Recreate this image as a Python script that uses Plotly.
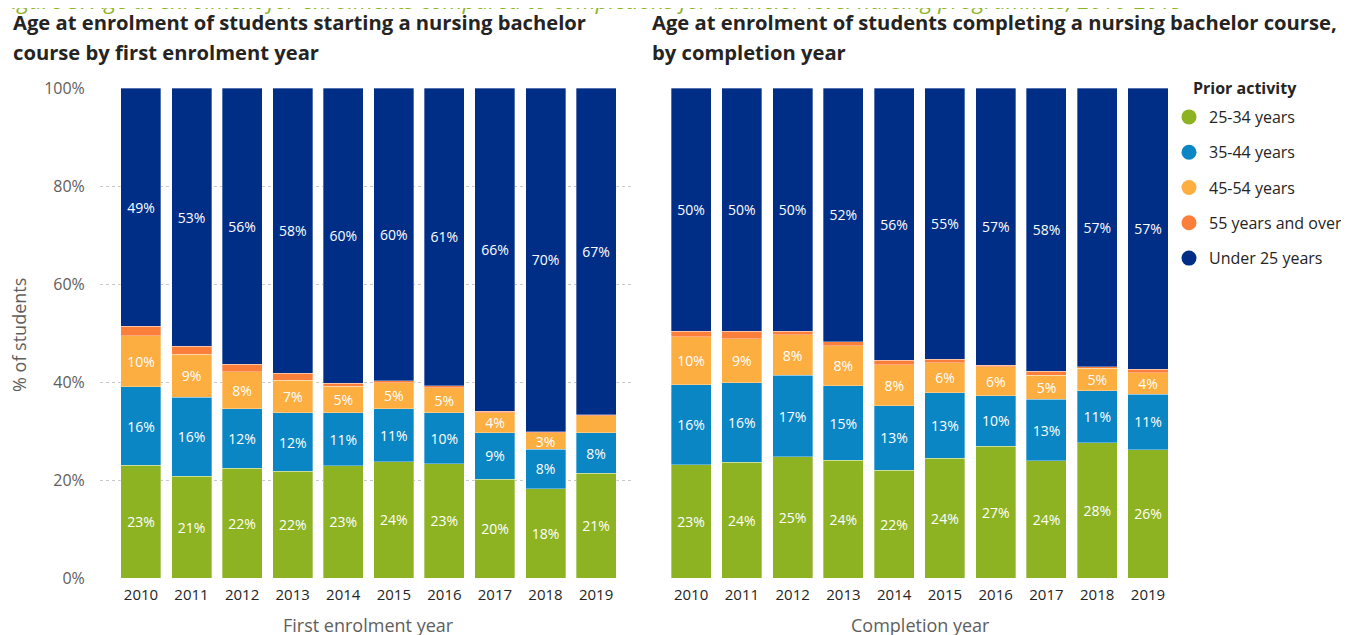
import plotly.graph_objects as go

W, H = 1349, 635
PAGE_PAD = 8  # default body margin of the html page

years = ['2010', '2011', '2012', '2013', '2014', '2015', '2016', '2017', '2018', '2019']
groups = ['25-34 years', '35-44 years', '45-54 years', '55 years and over', 'Under 25 years']
pct_ticks = [0, 20, 40, 60, 80, 100]
pct_labels = ['0%', '20%', '40%', '60%', '80%', '100%']

# enrolments, % of students by age group (bottom to top of the stack)
start_25_34 = [23.0, 20.8, 22.4, 21.8, 22.9, 23.7, 23.3, 20.2, 18.2, 21.4]
start_35_44 = [16.0, 16.1, 12.1, 11.9, 10.8, 10.8, 10.4, 9.4, 8.1, 8.2]
start_45_54 = [10.4, 8.8, 7.6, 6.7, 5.4, 5.3, 5.1, 4.1, 3.3, 3.5]
start_55plus = [2.0, 1.6, 1.5, 1.4, 0.6, 0.5, 0.4, 0.3, 0.2, 0.2]
start_under25 = [48.6, 52.7, 56.4, 58.2, 60.3, 59.7, 60.8, 66.0, 70.2, 66.7]

# completions, % of students by age group
comp_25_34 = [23.1, 23.6, 24.7, 24.0, 22.0, 24.4, 26.9, 23.9, 27.6, 26.2]
comp_35_44 = [16.3, 16.2, 16.7, 15.2, 13.2, 13.4, 10.3, 12.6, 10.6, 11.3]
comp_45_54 = [9.8, 9.0, 8.2, 8.2, 8.3, 6.1, 5.9, 4.9, 4.6, 4.4]
comp_55plus = [1.2, 1.6, 0.8, 0.8, 0.9, 0.7, 0.3, 0.8, 0.3, 0.7]
comp_under25 = [49.6, 49.6, 49.6, 51.8, 55.6, 55.4, 56.6, 57.8, 56.9, 57.4]

# labels that the report leaves out
hidden_start = {'55 years and over': 'all', '45-54 years': ['2019']}
hidden_comp = {'55 years and over': 'all'}

COLORS = {
  '25-34 years': '#8DB323',
  '35-44 years': '#0A86C5',
  '45-54 years': '#FCAE41',
  '55 years and over': '#FB7E3B',
  'Under 25 years': '#002E87',
}

FONT = 'Segoe UI, Open Sans, sans-serif'


def px_x(p):
  return (p - PAGE_PAD) / W


def px_y(p):
  return 1 - (p - PAGE_PAD) / H


def labels(name, values, hidden):
  rule = hidden.get(name)
  out = []
  for yr, v in zip(years, values):
    if rule == 'all' or (rule and yr in rule):
      out.append('')
    else:
      out.append(f'{v:.0f}%')
  return out


fig = go.Figure()

start_series = [start_25_34, start_35_44, start_45_54, start_55plus, start_under25]
comp_series = [comp_25_34, comp_35_44, comp_45_54, comp_55plus, comp_under25]

for axis_x, axis_y, series, hidden in [('x', 'y', start_series, hidden_start),
                                       ('x2', 'y2', comp_series, hidden_comp)]:
  for name, vals in zip(groups, series):
    fig.add_trace(go.Bar(
      name=name, x=years, y=vals, xaxis=axis_x, yaxis=axis_y,
      marker=dict(color=COLORS[name], line=dict(width=0.6, color='rgba(255,255,255,0.55)')),
      text=labels(name, vals, hidden),
      textposition='inside', insidetextanchor='middle', textangle=0,
      insidetextfont=dict(family=FONT, size=14, color='white'),
      showlegend=False, hoverinfo='x+y+name',
    ))

# round legend markers
for i, name in enumerate(groups):
  fig.add_trace(go.Scatter(
    name=name, x=[None], y=[None], xaxis='x2', yaxis='y2',
    mode='markers', marker=dict(symbol='circle', size=15, color=COLORS[name]),
    legendgroup=f'g{i}', showlegend=True,
  ))

ydom = [px_y(578), px_y(88)]
xrange = [-0.81, 9.71]

fig.update_layout(
  width=W, height=H,
  margin=dict(l=0, r=0, t=0, b=0, autoexpand=False),
  paper_bgcolor='white', plot_bgcolor='white',
  barmode='stack', bargap=0.21,
  uniformtext=dict(minsize=14, mode='show'),
  font=dict(family=FONT, color='#252423'),
  xaxis=dict(
    domain=[px_x(100), px_x(632)], range=xrange, type='category',
    showgrid=False, zeroline=False, showline=False,
    ticks='outside', ticklen=3, tickcolor='rgba(0,0,0,0)',
    tickfont=dict(family=FONT, size=15, color='#252423'),
  ),
  yaxis=dict(
    domain=ydom, range=[0, 100], tickmode='array', tickvals=pct_ticks, ticktext=pct_labels,
    showgrid=True, gridcolor='#C8C8C8', griddash='dot', gridwidth=1,
    zeroline=False, showline=False,
    ticks='outside', ticklen=11, tickcolor='rgba(0,0,0,0)',
    tickfont=dict(family=FONT, size=16, color='#605E5C'),
  ),
  xaxis2=dict(
    domain=[px_x(650), px_x(1184)], range=xrange, type='category',
    showgrid=False, zeroline=False, showline=False,
    ticks='outside', ticklen=3, tickcolor='rgba(0,0,0,0)',
    tickfont=dict(family=FONT, size=15, color='#252423'),
  ),
  yaxis2=dict(
    domain=ydom, range=[0, 100], anchor='x2',
    showgrid=False, zeroline=False, showline=False, showticklabels=False,
  ),
  showlegend=True,
  legend=dict(
    x=px_x(1169), y=px_y(100), xanchor='left', yanchor='top',
    traceorder='grouped', tracegroupgap=11.5,
    font=dict(family=FONT, size=16, color='#252423'),
    bgcolor='rgba(0,0,0,0)', itemclick='toggle',
  ),
)

title_font = dict(family=FONT, size=20.2, color='#252423', weight='bold')
axis_title_font = dict(family=FONT, size=18, color='#605E5C')
annotations = [
  # figure caption, clipped at the top of the page
  dict(text='Figure 5: Age at enrolment for enrolments compared to completions for bachelor level nursing programmes, 2010-2019',
       x=px_x(-1), y=px_y(0), xanchor='left', yanchor='middle',
       font=dict(family=FONT, size=22.5, color='#8DB323', style='italic')),
  dict(text='Age at enrolment of students starting a nursing bachelor',
       x=px_x(11), y=px_y(22), xanchor='left', yanchor='middle', font=title_font),
  dict(text='course by first enrolment year',
       x=px_x(11), y=px_y(52), xanchor='left', yanchor='middle', font=title_font),
  dict(text='Age at enrolment of students completing a nursing bachelor course,',
       x=px_x(650), y=px_y(22), xanchor='left', yanchor='middle', font=title_font),
  dict(text='by completion year',
       x=px_x(650), y=px_y(52), xanchor='left', yanchor='middle', font=title_font),
  dict(text='% of students', textangle=-90,
       x=px_x(19), y=px_y(335), xanchor='center', yanchor='middle', font=axis_title_font),
  dict(text='First enrolment year',
       x=px_x(369), y=px_y(625), xanchor='center', yanchor='middle', font=axis_title_font),
  dict(text='Completion year',
       x=px_x(920), y=px_y(625), xanchor='center', yanchor='middle', font=axis_title_font),
  dict(text='Prior activity',
       x=px_x(1191), y=px_y(88), xanchor='left', yanchor='middle',
       font=dict(family=FONT, size=16, color='#252423', weight='bold')),
]
for a in annotations:
  a.update(xref='paper', yref='paper', showarrow=False)
fig.update_layout(annotations=annotations)

fig.write_html('out.html')
